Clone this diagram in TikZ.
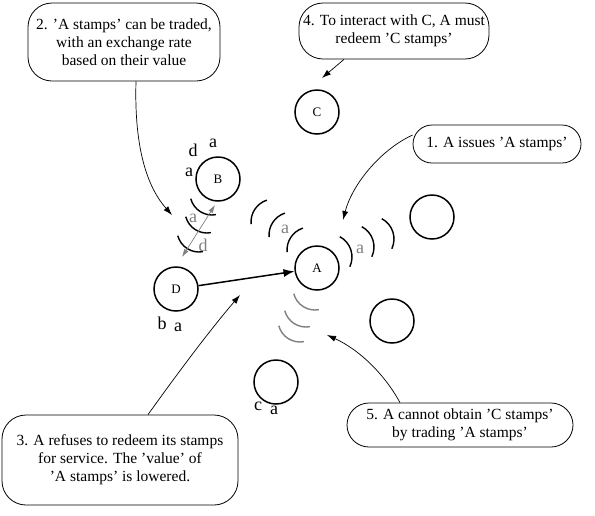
\documentclass[tikz,border=0pt]{standalone}
\usepackage{fontspec}
\setmainfont{Liberation Serif}
\usetikzlibrary{arrows.meta}
\tikzset{
  note/.style={draw, line width=0.8pt, rounded corners=24pt, align=center,
    inner sep=0pt, font=\fontsize{15.5}{18}\selectfont},
  peer/.style={circle, draw, line width=1.5pt, minimum size=44pt, inner sep=0pt,
    font=\fontsize{13}{13}\selectfont},
  wave/.style={line width=1.4pt},
  gwave/.style={line width=1.4pt, gray},
  lbl/.style={inner sep=0pt, font=\fontsize{18}{18}\selectfont},
  glbl/.style={lbl, gray},
  pointer/.style={line width=0.7pt, -{Latex[length=9pt,width=6pt]}}
}
\begin{document}
\begin{tikzpicture}[>=latex, x=1pt, y=1pt]
\useasboundingbox (0,0) rectangle (595,-515);
% peers
\node[peer] (A) at (317,-268) {A};
\node[peer] (B) at (218,-179) {B};
\node[peer] (C) at (317,-112) {C};
\node[peer] (D) at (176,-289) {D};
\node[peer] (E) at (432,-217) {};
\node[peer] (F) at (392,-321) {};
\node[peer] (G) at (276,-382) {};
% stamps held
\node[lbl] (Bd) at (193,-150) {d};
\node[lbl] (Ba) at (213,-143) {a};
\node[lbl] (Ba2) at (189,-172) {a};
\node[lbl] (Db) at (162,-323) {b};
\node[lbl] (Da) at (178,-327) {a};
\node[lbl] (Gc) at (258,-406) {c};
\node[lbl] (Ga) at (274,-410) {a};
% waves around A and B
\foreach \cx/\cy in {310/250, 292/235, 274/222}
  \draw[wave] ([shift={(108:23)}]\cx,-\cy) arc[start angle=108, end angle=185, radius=23];
\foreach \cx/\cy in {329/257, 351/247, 371/239}
  \draw[wave] ([shift={(-25:23)}]\cx,-\cy) arc[start angle=-25, end angle=62, radius=23];
\foreach \cx/\cy in {315/288, 306/305, 300/320}
  \draw[gwave] ([shift={(195:22)}]\cx,-\cy) arc[start angle=195, end angle=280, radius=22];
\foreach \cx/\cy in {212/193, 207/211, 199/230}
  \draw[wave] ([shift={(195:22)}]\cx,-\cy) arc[start angle=195, end angle=280, radius=22];
\node[glbl] (Aa1) at (285,-229) {a};
\node[glbl] (Aa2) at (360,-249) {a};
\node[glbl] (Ta) at (193,-218) {a};
\node[glbl] (Td) at (203,-245) {d};
% trade between B and D
\coordinate (tr1) at (182,-257);
\coordinate (tr2) at (215,-205);
\draw[gray, line width=0.7pt, {Latex[length=8pt,width=5pt]}-{Latex[length=8pt,width=5pt]}] (tr1) -- (tr2);
\draw[line width=1.5pt, -{Latex[length=11pt,width=8pt]}] (D) -- (A);
% notes
\node[note, minimum width=192pt, minimum height=78pt] (n2) at (124,-42)
  {2. 'A stamps' can be traded,\\ with an exchange rate\\ based on their value};
\node[note, minimum width=190pt, minimum height=56pt] (n4) at (394,-31)
  {4. To interact with C, A must\\ redeem 'C stamps'};
\node[note, rounded corners=19pt, minimum width=168pt, minimum height=38pt] (n1) at (497,-144)
  {1. A issues 'A stamps'};
\node[note, rounded corners=22pt, minimum width=226pt, minimum height=44pt] (n5) at (460,-425)
  {5. A cannot obtain 'C stamps'\\ by trading 'A stamps'};
\node[note, minimum width=236pt, minimum height=90pt] (n3) at (120,-460)
  {3. A refuses to redeem its stamps\\ for service. The 'value' of\\ 'A stamps' is lowered.};
% pointers
\coordinate (p2) at (172,-215);
\coordinate (p4) at (322,-78);
\coordinate (p1) at (343,-220);
\coordinate (p3) at (240,-295);
\coordinate (p5) at (327,-335);
\draw[pointer] ([xshift=12pt]n2.south) .. controls (134,-150) and (148,-188) .. (p2);
\draw[pointer] ([xshift=-50pt]n4.south) -- (p4);
\draw[pointer] ([yshift=9pt]n1.west) .. controls (380,-150) and (352,-185) .. (p1);
\draw[pointer] ([xshift=28pt]n3.north) .. controls (180,-370) and (210,-330) .. (p3);
\draw[pointer] ([xshift=-60pt]n5.north) .. controls (385,-375) and (360,-350) .. (p5);
\end{tikzpicture}
\end{document}
